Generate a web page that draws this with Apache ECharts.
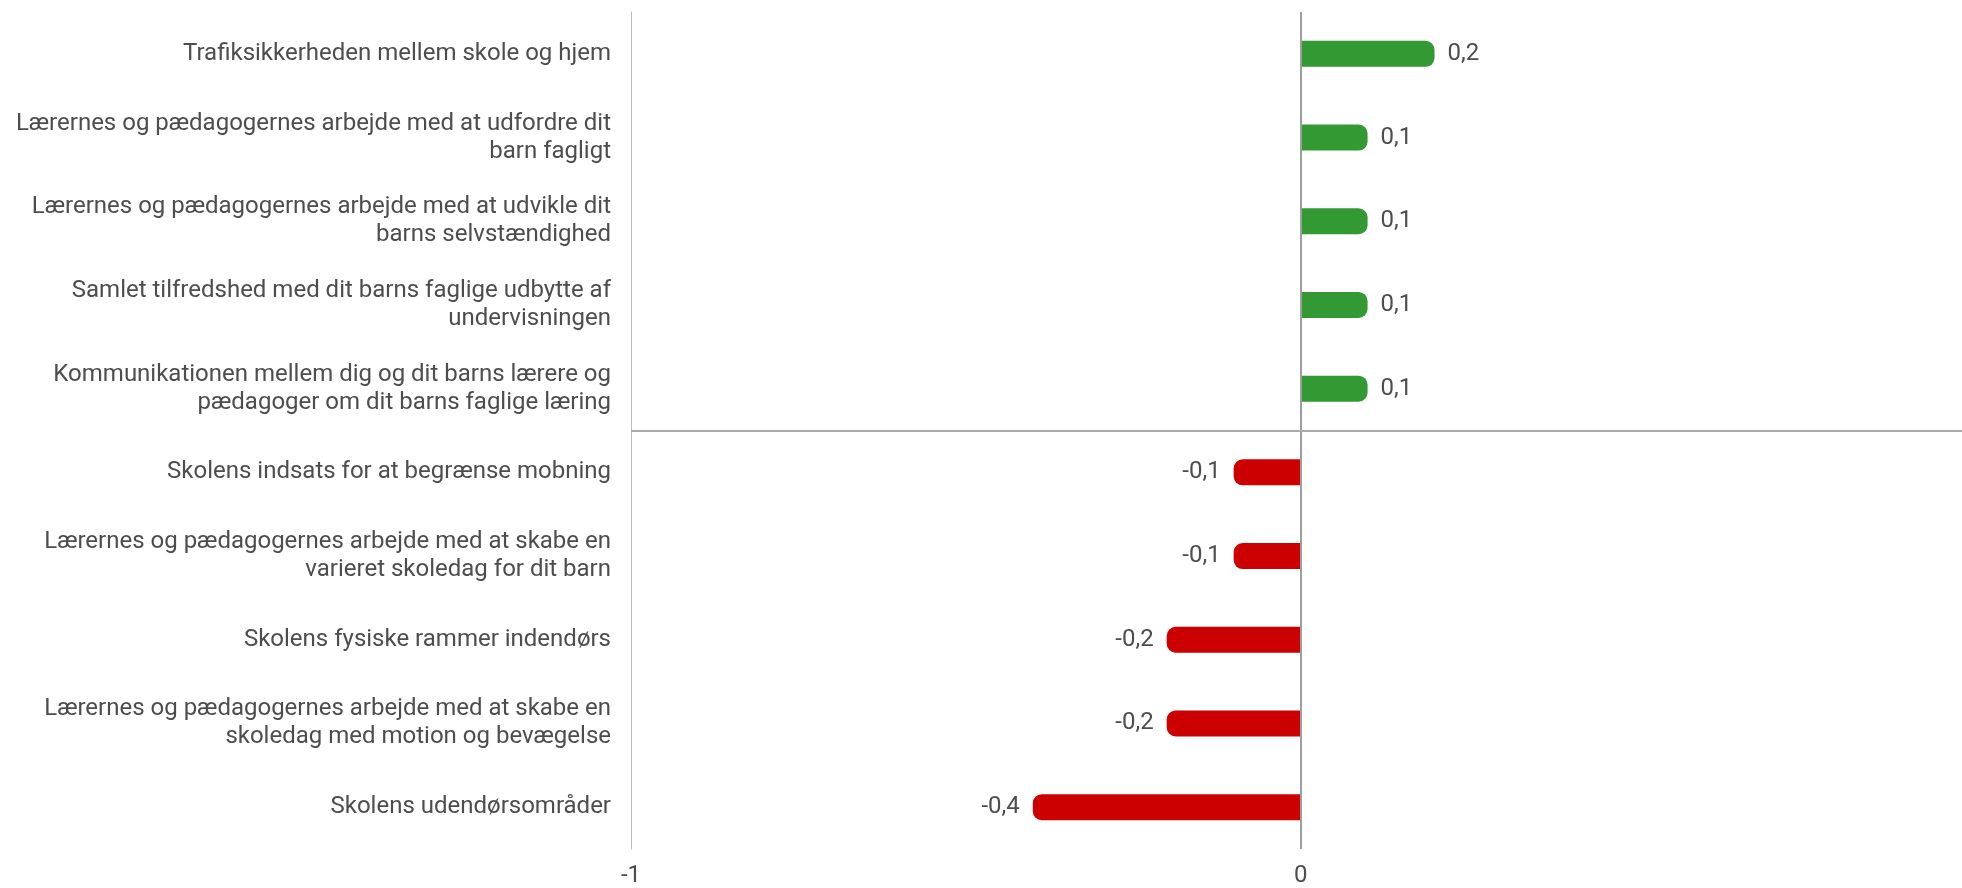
<!DOCTYPE html>
<html>
<head>
    <meta charset="utf-8">
    <title>ECharts</title>
    <script src="https://cdn.jsdelivr.net/npm/echarts@6/dist/echarts.min.js"></script>
    <style>
        html, body { margin: 0; padding: 0; overflow: hidden; background: #fff; }
        #main { width: 1980px; height: 888px; }
    </style>
</head>
<body>
    <div id="main"></div>
    <script>
        // data
        var categories = [
            'Trafiksikkerheden mellem skole og hjem',
            'Lærernes og pædagogernes arbejde med at udfordre dit\nbarn fagligt',
            'Lærernes og pædagogernes arbejde med at udvikle dit\nbarns selvstændighed',
            'Samlet tilfredshed med dit barns faglige udbytte af\nundervisningen',
            'Kommunikationen mellem dig og dit barns lærere og\npædagoger om dit barns faglige læring',
            'Skolens indsats for at begrænse mobning',
            'Lærernes og pædagogernes arbejde med at skabe en\nvarieret skoledag for dit barn',
            'Skolens fysiske rammer indendørs',
            'Lærernes og pædagogernes arbejde med at skabe en\nskoledag med motion og bevægelse',
            'Skolens udendørsområder'
        ];
        var values = [0.2, 0.1, 0.1, 0.1, 0.1, -0.1, -0.1, -0.2, -0.2, -0.4];
        var xTicks = [-1, 0, 1];
        var positiveCount = 5; // divider between the positive and negative group

        var textColor = '#4d4d4d';
        var font = 'Roboto';

        var barData = values.map(function (v) {
            var pos = v >= 0;
            return {
                value: v,
                itemStyle: {
                    color: pos ? '#339933' : '#cc0000',
                    borderRadius: pos ? [0, 9, 9, 0] : [9, 0, 0, 9]
                },
                label: { position: pos ? 'right' : 'left' }
            };
        });

        var myChart = echarts.init(document.getElementById('main'));
        var option = {
            animation: false,
            grid: { left: 631, right: 5, top: 12, bottom: 33, containLabel: false },
            xAxis: {
                type: 'value',
                min: xTicks[0],
                max: xTicks[xTicks.length - 1],
                interval: 1,
                axisLine: { show: false },
                axisTick: { show: false },
                splitLine: { show: false },
                axisLabel: {
                    color: textColor, fontFamily: font, fontSize: 24, margin: 15
                }
            },
            yAxis: [{
                type: 'category',
                inverse: true,
                data: categories,
                axisLine: { show: true, onZero: false, lineStyle: { color: '#bdbdbd', width: 1 } },
                axisTick: { show: false },
                splitLine: { show: false },
                axisLabel: {
                    color: textColor, fontFamily: font, fontSize: 24, lineHeight: 28,
                    margin: 20, align: 'right'
                }
            }, {
                // helper axis, only used to place the group divider
                type: 'value',
                show: false,
                inverse: true,
                min: 0,
                max: categories.length
            }],
            series: [{
                type: 'bar',
                data: barData,
                barWidth: 26,
                label: {
                    show: true,
                    distance: 13,
                    color: textColor,
                    fontFamily: font,
                    fontSize: 24,
                    formatter: function (p) { return String(p.value).replace('.', ','); }
                },
                markLine: {
                    silent: true,
                    symbol: 'none',
                    label: { show: false },
                    lineStyle: { color: '#9e9e9e', width: 2, type: 'solid' },
                    data: [{ xAxis: 0 }]
                }
            }, {
                type: 'line',
                yAxisIndex: 1,
                data: [[0, positiveCount]],
                showSymbol: false,
                symbolSize: 0,
                lineStyle: { width: 0 },
                markLine: {
                    silent: true,
                    symbol: 'none',
                    label: { show: false },
                    lineStyle: { color: '#aaaaaa', width: 2, type: 'solid' },
                    data: [{ yAxis: positiveCount }]
                }
            }]
        };
        myChart.setOption(option);
    </script>
</body>
</html>
